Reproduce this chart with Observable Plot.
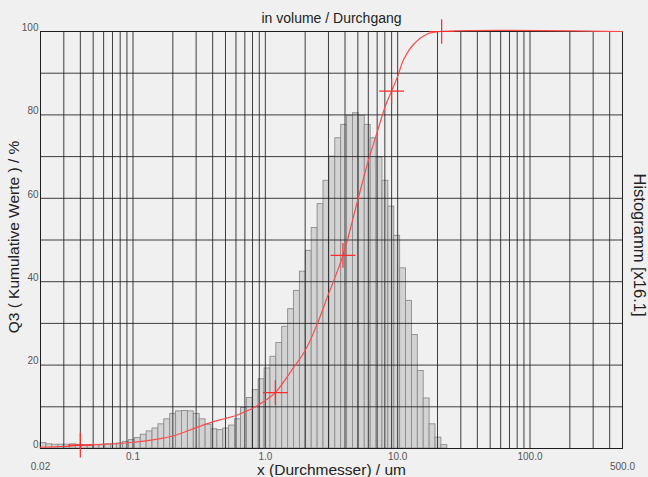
<!DOCTYPE html>
<html><head><meta charset="utf-8">
<script src="https://cdn.jsdelivr.net/npm/d3@7"></script>
<script src="https://cdn.jsdelivr.net/npm/@observablehq/plot@0.6"></script>
<style>html,body{margin:0;padding:0;background:#f0f0f0;overflow:hidden;}</style>
</head><body><div id="chart"></div><script>
// Histogram channel edges (µm) and bar heights (%)
const binEdges = [0.02, 0.02216, 0.02456, 0.02721, 0.03015, 0.03340, 0.03701, 0.04101, 0.04544, 0.05035,
  0.05579, 0.06182, 0.06849, 0.07589, 0.08409, 0.09318, 0.1032, 0.1144, 0.1268, 0.1404,
  0.1556, 0.1724, 0.1911, 0.2117, 0.2346, 0.2599, 0.2880, 0.3191, 0.3536, 0.3918,
  0.4341, 0.4810, 0.5329, 0.5905, 0.6543, 0.7250, 0.8033, 0.8901, 0.9862, 1.093,
  1.211, 1.342, 1.487, 1.647, 1.825, 2.022, 2.241, 2.483, 2.751, 3.048,
  3.377, 3.742, 4.146, 4.594, 5.091, 5.641, 6.250, 6.925, 7.673, 8.502,
  9.421, 10.44, 11.57, 12.82, 14.20, 15.73, 17.43, 19.32, 21.40, 23.72];
const binHeights = [1.3, 1.0, 0.9, 0.9, 0.9, 1.0, 0.9, 0.7, 0.8, 0.8,
  0.9, 1.0, 1.1, 1.2, 1.6, 2.0, 2.5, 3.3, 4.1, 4.8,
  5.8, 7.0, 8.3, 8.9, 9.0, 8.9, 8.3, 7.0, 5.7, 4.6,
  4.4, 4.8, 5.5, 7.0, 9.7, 12.1, 14.0, 16.6, 19.2, 22.0,
  25.3, 29.2, 33.4, 37.8, 42.4, 47.4, 52.9, 58.6, 64.2, 70.0,
  74.4, 77.6, 79.8, 80.4, 79.8, 77.6, 74.4, 69.8, 64.2, 58.0,
  51.0, 43.2, 35.4, 27.2, 18.6, 12.0, 5.8, 2.6, 0.8];

// Cumulative Q3 curve
const cumSize = [0.02, 0.03, 0.04, 0.06, 0.08, 0.1, 0.15, 0.2, 0.3, 0.4, 0.5, 0.6, 0.7, 0.8, 0.9, 1.0,
  1.19, 1.64, 2.0, 2.47, 2.94, 3.86, 4.95, 6.06, 7.01, 8.11, 9.0, 9.93, 11.15, 13.27, 16.75, 21.1, 500];
const cumValue = [0.3, 0.5, 0.8, 1.0, 1.2, 1.5, 2.2, 3.0, 5.0, 6.4, 7.2, 7.9, 8.8, 9.6, 10.6, 11.5,
  13.4, 19.5, 23.5, 29.9, 36.3, 46.3, 59.1, 69.5, 75.9, 82.3, 85.7, 89.0, 93.4, 97.0, 99.4, 100, 100];

// Marked points on the curve
const markSize = [0.04, 1.19, 3.86, 9.0, 21.5];
const markValue = [0.8, 13.4, 46.3, 85.7, 100];

// Grid and ticks
const gridX = [0.02, 0.03, 0.04, 0.05, 0.06, 0.07, 0.08, 0.09,
  0.1, 0.2, 0.3, 0.4, 0.5, 0.6, 0.7, 0.8, 0.9,
  1, 2, 3, 4, 5, 6, 7, 8, 9,
  10, 20, 30, 40, 50, 60, 70, 80, 90,
  100, 200, 300, 400, 500];
const gridY = [0, 10, 20, 30, 40, 50, 60, 70, 80, 90, 100];
const yTicks = [0, 20, 40, 60, 80, 100];
const xTicksInner = [0.1, 1, 10, 100];
const xTicksInnerLabels = ["0.1", "1.0", "10.0", "100.0"];
const xTicksEnd = [0.02, 500];
const xTicksEndLabels = ["0.02", "500.0"];

const titleText = "in volume / Durchgang";
const xTitle = "x (Durchmesser) / um";
const yTitle = "Q3 ( Kumulative Werte ) / %";
const y2Title = "Histogramm [x16.1]";

const bars = binHeights.map((h, i) => ({x1: binEdges[i], x2: binEdges[i + 1], h}));
const cum = cumSize.map((x, i) => ({x, q: cumValue[i]}));
const marksData = markSize.map((x, i) => ({x, q: markValue[i]}));
const innerLbl = xTicksInner.map((x, i) => ({x, t: xTicksInnerLabels[i]}));
const endLbl = xTicksEnd.map((x, i) => ({x, t: xTicksEndLabels[i]}));

const font = "'Liberation Sans', Arial, sans-serif";

const chart = Plot.plot({
  width: 648, height: 477,
  marginLeft: 40, marginRight: 26, marginTop: 31, marginBottom: 29,
  style: {background: "#f0f0f0", fontFamily: font, overflow: "visible"},
  x: {type: "log", domain: [0.02, 500], axis: null},
  y: {domain: [0, 100], axis: null},
  marks: [
    Plot.rectY(bars, {x1: "x1", x2: "x2", y: "h", fill: "#d3d3d3", stroke: "#8c8c8c", strokeWidth: 0.9}),
    Plot.ruleX(gridX, {stroke: "#1e1e1e", strokeWidth: 1, strokeOpacity: 0.85}),
    Plot.ruleY(gridY, {stroke: "#1e1e1e", strokeWidth: 1, strokeOpacity: 0.85}),
    Plot.frame({stroke: "#1e1e1e"}),
    Plot.line(cum, {x: "x", y: "q", stroke: "#ff4a4a", strokeWidth: 1.2, curve: "catmull-rom"}),
    Plot.dot(marksData, {x: "x", y: "q", symbol: "plus", r: 8, stroke: "#ff2a2a", strokeWidth: 1.2}),
    Plot.axisY(yTicks, {tickSize: 0, tickPadding: 2, dy: -4, fontSize: 10, fill: "#555", label: null}),
    Plot.text(innerLbl, {x: "x", text: "t", frameAnchor: "bottom", lineAnchor: "middle", dy: 8.5, fontSize: 10, fill: "#555"}),
    Plot.text(endLbl, {x: "x", text: "t", frameAnchor: "bottom", lineAnchor: "middle", dy: 18.5, fontSize: 10, fill: "#555"}),
    Plot.text([titleText], {frameAnchor: "top", lineAnchor: "middle", dy: -12.7, fontSize: 14, fill: "#222"}),
    Plot.text([xTitle], {frameAnchor: "bottom", lineAnchor: "middle", dy: 22, fontSize: 15.5, fill: "#222"}),
    Plot.text([yTitle], {frameAnchor: "left", textAnchor: "middle", lineAnchor: "middle", dx: -26, dy: -3, rotate: -90, fontSize: 15.5, fill: "#222"}),
    Plot.text([y2Title], {frameAnchor: "right", textAnchor: "middle", lineAnchor: "middle", dx: 17, dy: 5, rotate: 90, fontSize: 16.5, fill: "#222"})
  ]
});
document.getElementById("chart").appendChild(chart);
</script></body></html>
